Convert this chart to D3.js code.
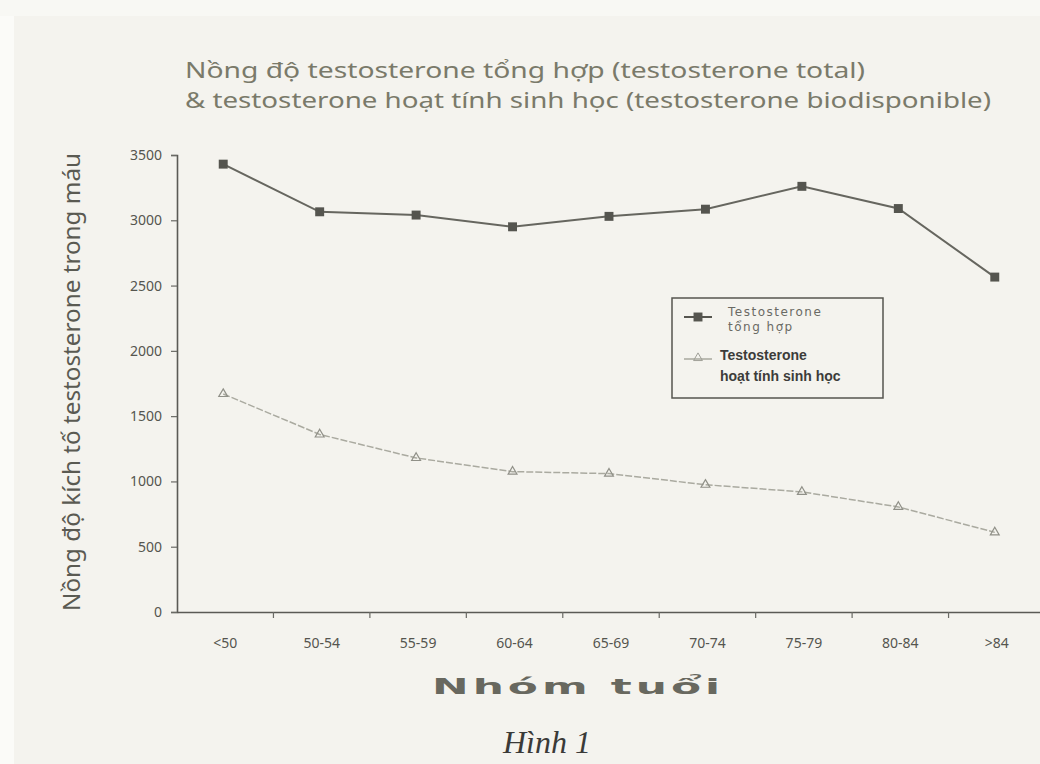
<!DOCTYPE html>
<html>
<head>
<meta charset="utf-8">
<script src="https://cdn.jsdelivr.net/npm/d3@7"></script>
<style>
  body { margin: 0; background: #f4f3ee; }
  svg { display: block; }
</style>
</head>
<body>
<svg id="chart" width="1040" height="764"></svg>
<script>
// age groups and the two series
const ageGroups = ['<50', '50-54', '55-59', '60-64', '65-69', '70-74', '75-79', '80-84', '>84'];
const totalValues = [3430, 3065, 3040, 2950, 3030, 3085, 3260, 3090, 2565];
const bioValues = [1670, 1360, 1180, 1075, 1060, 975, 920, 805, 610];
const yTicks = [0, 500, 1000, 1500, 2000, 2500, 3000, 3500];

const svg = d3.select('#chart');

// faint whiter margin of the scan on the left and top
svg.append('rect').attr('x', 0).attr('y', 0).attr('width', 1040).attr('height', 764).attr('fill', '#f4f3ee');
svg.append('rect').attr('x', 0).attr('y', 0).attr('width', 14).attr('height', 764).attr('fill', '#fbfbf8');
svg.append('rect').attr('x', 0).attr('y', 0).attr('width', 1040).attr('height', 16).attr('fill', '#f8f8f4');

const x = d3.scaleBand().domain(ageGroups).range([177, 1045]);
const y = d3.scaleLinear().domain([0, 3500]).range([612, 155]);
const cx = (d, i) => x(ageGroups[i]) + x.bandwidth() / 2 - 2;

// title
const title = svg.append('g')
  .style('font-family', 'Noto Sans, sans-serif')
  .style('font-size', '21px')
  .attr('fill', '#7a7a6a');
title.append('text').attr('x', 185).attr('y', 78)
  .attr('textLength', 680).attr('lengthAdjust', 'spacingAndGlyphs')
  .text('Nồng độ testosterone tổng hợp (testosterone total)');
title.append('text').attr('x', 185).attr('y', 108)
  .attr('textLength', 806).attr('lengthAdjust', 'spacingAndGlyphs')
  .text('& testosterone hoạt tính sinh học (testosterone biodisponible)');

// axes
const yAxis = svg.append('g')
  .attr('transform', 'translate(177,0)')
  .call(d3.axisLeft(y).tickValues(yTicks).tickFormat(d3.format('d')).tickSize(6).tickPadding(9));
const xAxis = svg.append('g')
  .attr('transform', 'translate(0,612)')
  .call(d3.axisBottom(x).tickSize(0).tickPadding(26));

[yAxis, xAxis].forEach((g) => {
  g.select('.domain').attr('stroke', '#5a5a55').attr('stroke-width', 1.6);
  g.selectAll('.tick line').attr('stroke', '#6a6a65').attr('stroke-width', 1.2);
  g.selectAll('text')
    .style('font-family', 'Noto Sans, sans-serif')
    .style('font-size', '14px')
    .attr('fill', '#55554f');
});

// x ticks sit between the categories
svg.append('g')
  .selectAll('line')
  .data(ageGroups.slice(1))
  .join('line')
  .attr('x1', (d) => x(d))
  .attr('x2', (d) => x(d))
  .attr('y1', 612)
  .attr('y2', 618)
  .attr('stroke', '#6a6a65')
  .attr('stroke-width', 1.2);

// axis titles
svg.append('text')
  .attr('transform', 'translate(80,382) rotate(-90)')
  .attr('text-anchor', 'middle')
  .attr('textLength', 458).attr('lengthAdjust', 'spacingAndGlyphs')
  .style('font-family', 'Noto Sans, sans-serif')
  .style('font-size', '23px')
  .attr('fill', '#5a5a52')
  .text('Nồng độ kích tố testosterone trong máu');

svg.append('text')
  .attr('x', 578).attr('y', 694)
  .attr('text-anchor', 'middle')
  .attr('textLength', 292).attr('lengthAdjust', 'spacingAndGlyphs')
  .style('font-family', 'DejaVu Sans, sans-serif')
  .style('font-size', '22px')
  .style('font-weight', 'bold')
  .style('letter-spacing', '2px')
  .attr('fill', '#68685f')
  .text('Nhóm tuổi');

svg.append('text')
  .attr('x', 547).attr('y', 753)
  .attr('text-anchor', 'middle')
  .style('font-family', 'Liberation Serif, serif')
  .style('font-size', '32px')
  .style('font-style', 'italic')
  .attr('fill', '#3a3a38')
  .text('Hình 1');

// series lines
const line = d3.line().x(cx).y((d) => y(d));

svg.append('path')
  .datum(totalValues)
  .attr('d', line)
  .attr('fill', 'none')
  .attr('stroke', '#66665f')
  .attr('stroke-width', 2);

svg.append('path')
  .datum(bioValues)
  .attr('d', line)
  .attr('fill', 'none')
  .attr('stroke', '#aaaaa0')
  .attr('stroke-width', 1.5)
  .attr('stroke-dasharray', '7,2');

const square = d3.symbol().type(d3.symbolSquare).size(80);
const triangle = d3.symbol().type(d3.symbolTriangle).size(34);

svg.append('g')
  .selectAll('path')
  .data(totalValues)
  .join('path')
  .attr('transform', (d, i) => `translate(${cx(d, i)},${y(d)})`)
  .attr('d', square)
  .attr('fill', '#55554f');

svg.append('g')
  .selectAll('path')
  .data(bioValues)
  .join('path')
  .attr('transform', (d, i) => `translate(${cx(d, i)},${y(d)})`)
  .attr('d', triangle)
  .attr('fill', 'none')
  .attr('stroke', '#909088')
  .attr('stroke-width', 1.2);

// legend
const legend = svg.append('g').attr('transform', 'translate(672,298)');
legend.append('rect')
  .attr('width', 211).attr('height', 100)
  .attr('fill', 'none')
  .attr('stroke', '#55554f')
  .attr('stroke-width', 1.5);

legend.append('line')
  .attr('x1', 12).attr('x2', 40).attr('y1', 19).attr('y2', 19)
  .attr('stroke', '#55554f').attr('stroke-width', 2);
legend.append('path')
  .attr('transform', 'translate(26,19)')
  .attr('d', square)
  .attr('fill', '#55554f');
legend.append('line')
  .attr('x1', 12).attr('x2', 40).attr('y1', 61).attr('y2', 61)
  .attr('stroke', '#a8a89e').attr('stroke-width', 1.5);
legend.append('path')
  .attr('transform', 'translate(26,60)')
  .attr('d', triangle)
  .attr('fill', 'none')
  .attr('stroke', '#a0a098');

const legendTop = legend.append('g')
  .style('font-family', 'DejaVu Sans, sans-serif')
  .style('font-size', '12px')
  .style('letter-spacing', '1.5px')
  .attr('fill', '#6a6a64');
legendTop.append('text').attr('x', 56).attr('y', 18).text('Testosterone');
legendTop.append('text').attr('x', 56).attr('y', 33).text('tổng hợp');

const legendBottom = legend.append('g')
  .style('font-family', 'Liberation Sans Narrow, Liberation Sans, sans-serif')
  .style('font-size', '14px')
  .style('font-weight', 'bold')
  .attr('fill', '#3c3c3a');
legendBottom.append('text').attr('x', 48).attr('y', 62).text('Testosterone');
legendBottom.append('text').attr('x', 48).attr('y', 83).text('hoạt tính sinh học');
</script>
</body>
</html>
